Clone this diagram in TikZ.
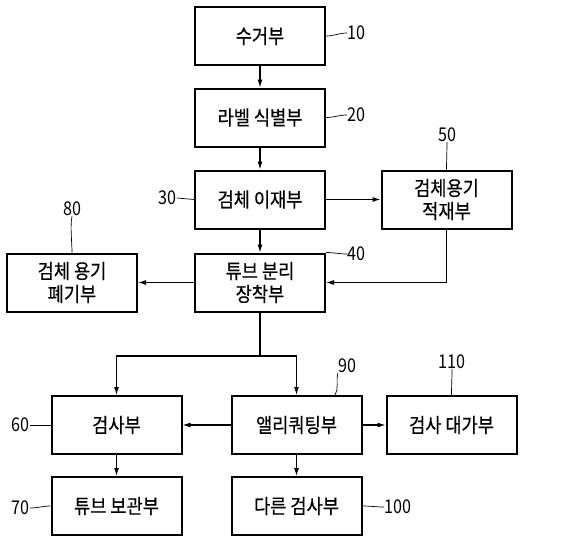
\documentclass[tikz,border=0pt]{standalone}
\usepackage{fontspec}
\newfontfamily\kr[FakeStretch=0.88,FakeBold=0.4]{Noto Sans CJK KR}
\newfontfamily\krnum[FakeStretch=0.85]{Noto Sans CJK KR}
\usetikzlibrary{arrows.meta}

\begin{document}
\begin{tikzpicture}[x=1pt,y=-1pt,
    box/.style={draw,line width=2pt,minimum width=130pt,minimum height=58pt,inner sep=0pt,align=center,font=\kr\fontsize{20}{23}\selectfont},
    num/.style={inner sep=0pt,font=\krnum\fontsize{19}{20}\selectfont},
    arr/.style={line width=1.1pt,-{Latex[length=8pt,width=5pt]}},
    lead/.style={line width=0.7pt}]
        \useasboundingbox (0,0) rectangle (561,544);
        \node[box] at (260,36) (n10) {수거부};
        \node[box] at (260,117.5) (n20) {라벨 식별부};
        \node[box] at (260,199.5) (n30) {검체 이재부};
        \node[box] at (446.5,199.5) (n50) {검체용기\\적재부};
        \node[box] at (72,282.5) (n80) {검체 용기\\폐기부};
        \node[box] at (260,282.5) (n40) {튜브 분리\\장착부};
        \node[box] at (116.5,425) (n60) {검사부};
        \node[box] at (296.5,425) (n90) {앨리쿼팅부};
        \node[box] at (451.5,425) (n110) {검사 대가부};
        \node[box] at (116.5,506) (n70) {튜브 보관부};
        \node[box] at (296.5,506) (n100) {다른 검사부};
        % reference numerals
        \node[num,anchor=west] at (347,33) (l10) {10};
        \node[num,anchor=west] at (347,115) (l20) {20};
        \node[num,anchor=east] at (177,198) (l30) {30};
        \node[num,anchor=west] at (347,254) (l40) {40};
        \node[num] at (447,135) (l50) {50};
        \node[num] at (72,209) (l80) {80};
        \node[num] at (347,366) (l90) {90};
        \node[num] at (452,362) (l110) {110};
        \node[num,anchor=east] at (30,425) (l60) {60};
        \node[num,anchor=east] at (30,508) (l70) {70};
        \node[num,anchor=west] at (384,507) (l100) {100};
        \draw[lead] (n10.east) .. controls +(8,0) and +(-8,0) .. (l10.west);
        \draw[lead] (n20.east) .. controls +(8,0) and +(-8,0) .. (l20.west);
        \draw[lead] (l30.east) .. controls +(8,0) and +(-8,0) .. (n30.west);
        \draw[lead] (n40.north east) .. controls +(8,0) and +(-8,0) .. (l40.west);
        \draw[lead] (l50.south) .. controls +(0,8) and +(0,-8) .. (n50.north);
        \draw[lead] (l80.south) .. controls +(-2,10) and +(0,-10) .. (n80.north);
        \draw[lead] (335,395) .. controls +(4,-6) and +(-2,8) .. (l90.south west);
        \draw[lead] (l110.south) .. controls +(0,8) and +(0,-8) .. (n110.north);
        \draw[lead] (l60.east) .. controls +(8,0) and +(-8,0) .. (n60.west);
        \draw[lead] (l70.east) .. controls +(8,0) and +(-8,0) .. (n70.west);
        \draw[lead] (n100.east) .. controls +(8,0) and +(-8,0) .. (l100.west);
        % flow
        \draw[arr] (n10) -- (n20);
        \draw[arr] (n20) -- (n30);
        \draw[arr] (n30) -- (n40);
        \draw[arr] (n30) -- (n50);
        \draw[arr] (n50.south) |- (n40.east);
        \draw[arr] (n40) -- (n80);
        \coordinate (split) at (260,356);
        \draw[line width=1.1pt] (n40.south) -- (split);
        \draw[arr] (split) -| (n60.north);
        \draw[arr] (split) -| (n90.north);
        \draw[arr] (n90) -- (n60);
        \draw[arr] (n90) -- (n110);
        \draw[arr] (n60) -- (n70);
        \draw[arr] (n90) -- (n100);
    \end{tikzpicture}
\end{document}
